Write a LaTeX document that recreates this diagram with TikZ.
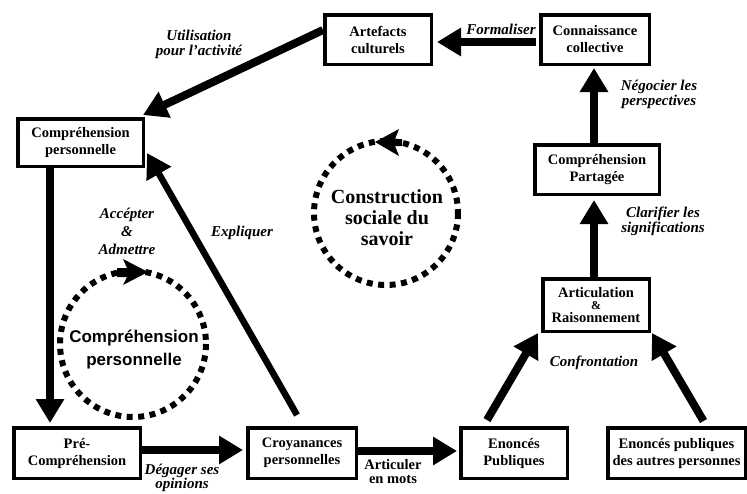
\documentclass[tikz,border=0pt]{standalone}
\usepackage{fontspec}
\setmainfont{Liberation Serif}
\newfontfamily\arialf{Liberation Sans}
\usetikzlibrary{arrows.meta,calc}
\begin{document}
\begin{tikzpicture}[x=1pt,y=-1pt,
  box/.style={draw, line width=3.5pt, fill=white, align=center, inner sep=0pt,
    font=\bfseries\fontsize{14.5}{17}\selectfont},
  lab/.style={align=center, inner sep=0pt, font=\bfseries\itshape\fontsize{15}{15}\selectfont},
  flow/.style={line width=8pt, -{Triangle[length=24pt,width=27pt]}},
  thinflow/.style={line width=6.5pt, -{Triangle[length=24pt,width=27pt]}},
  dotc/.style={line width=6pt, dash pattern=on 6pt off 5.5pt}]
\useasboundingbox (0,0) rectangle (747,493);
% boxes
\node[box, minimum width=106.5pt, minimum height=49.5pt] (art) at (378,39.5) {Artefacts\\culturels};
\node[box, minimum width=108.5pt, minimum height=49.5pt] (conn) at (595,39.5) {Connaissance\\collective};
\node[box, minimum width=124.5pt, minimum height=49.5pt] (part) at (597,169.5) {Compréhension\\Partagée};
\node[box, minimum width=106.5pt, minimum height=52.5pt] (art2) at (596,305) {Articulation\\[-5pt]{\fontsize{12}{12}\selectfont\&}\\[-4pt]Raisonnement};
\node[box, minimum width=125.5pt, minimum height=47.5pt] (cp) at (80.5,142.5) {Compréhension\\personnelle};
\node[box, minimum width=126.5pt, minimum height=50.5pt] (pre) at (77,453) {Pré-\\Compréhension};
\node[box, minimum width=108.5pt, minimum height=50.5pt] (croy) at (302,453) {Croyanances\\personnelles};
\node[box, minimum width=106.5pt, minimum height=50.5pt] (enon) at (514,453) {Enoncés\\Publiques};
\node[box, minimum width=137.5pt, minimum height=50.5pt] (autres) at (676.5,453) {Enoncés publiques\\des autres personnes};
% arrows
\draw[flow] ($(conn.west)+(-3,2.5)$) -- ($(art.east)+(4,2.5)$);
\draw[flow] ($(part.north)+(-3,0)$) -- ($(conn.south)+(-1,2)$);
\draw[flow] ($(art2.north)+(-2,0)$) -- ($(part.south)+(-3,4)$);
\draw[flow] ($(enon.north)+(-27,-6)$) -- ($(art2.south west)+(-3,0)$);
\draw[flow] ($(autres.north)+(27,-5)$) -- ($(art2.south east)+(1,0)$);
\draw[flow] ($(croy.east)+(0,-2)$) -- ($(enon.west)+(-2,-2)$);
\draw[flow] ($(pre.east)+(0,-3)$) -- ($(croy.west)+(-3,-3)$);
\draw[flow] ($(cp.south west)+(34,0)$) -- ($(pre.north west)+(38,-3)$);
\draw[thinflow] ($(croy.north)+(-5,-11)$) -- ($(cp.east)+(2,10.5)$);
\draw[flow] ($(art.west)+(0,-9.5)$) -- ($(cp.north east)+(-2,-2)$);
% labels
\node[lab] (lform) at (501,29) {Formaliser};
\node[lab] (lutil) at (199,44.5) {Utilisation\\pour l'activité};
\node[lab, font=\bfseries\itshape\fontsize{15}{18}\selectfont] (lacc) at (127,231) {Accépter\\\&\\Admettre};
\node[lab] (lexp) at (242,233) {Expliquer};
\node[lab] (lneg) at (659,94) {Négocier les\\perspectives};
\node[lab] (lcla) at (663,221) {Clarifier les\\significations};
\node[lab] (lconf) at (594,363) {Confrontation};
\node[lab, font=\bfseries\itshape\fontsize{15}{14}\selectfont] (ldeg) at (182,478) {Dégager ses\\opinions};
\node[align=center, inner sep=0pt, font=\bfseries\fontsize{14.5}{14}\selectfont] (lartic) at (393,472) {Articuler\\en mots};
% dotted circles
\coordinate (bigc) at (386,213);
\coordinate (smallc) at (133,344);
\draw[dotc] (bigc) circle[radius=72];
\draw[dotc] (smallc) circle[radius=73];
\fill (375,142) -- (399,129) -- (395,139) -- (402,139) -- (402,146) -- (395,146) -- (399,156) -- cycle;
\fill (148,272) -- (123,259) -- (127,268) -- (117,268) -- (117,277) -- (127,277) -- (123,285) -- cycle;
\node[align=center, inner sep=0pt, font=\bfseries\fontsize{20}{21}\selectfont] (lcons) at (387,218) {Construction\\sociale du\\savoir};
\node[align=center, inner sep=0pt, font=\arialf\bfseries\fontsize{17}{23}\selectfont] (lcomp) at (134,350) {Compréhension\\personnelle};
\end{tikzpicture}
\end{document}
